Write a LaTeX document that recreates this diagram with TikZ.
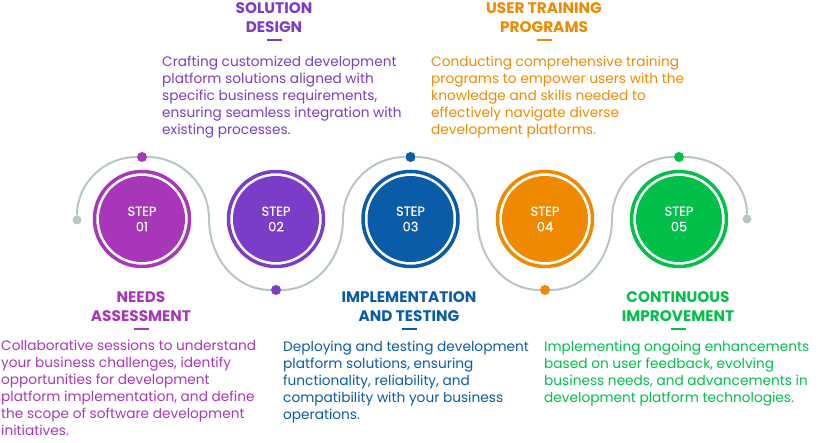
\documentclass[tikz,border=0pt]{standalone}
\usepackage{fontspec}
\setmainfont{Poppins}
\newfontfamily\stepfont[BoldFont={Poppins}, BoldFeatures={FakeBold=0.4}]{Poppins}
\usetikzlibrary{positioning}

\definecolor{stepA}{HTML}{A737B8}
\definecolor{stepB}{HTML}{7B3CC8}
\definecolor{stepC}{HTML}{0A5BA8}
\definecolor{stepD}{HTML}{EF8A00}
\definecolor{stepE}{HTML}{00C049}
\definecolor{wave}{HTML}{B9C6C6}

\tikzset{
  disc/.style={circle, fill=#1, minimum size=86pt, inner sep=0pt, text=white, align=center,
    font=\stepfont\bfseries\fontsize{13}{15.5}\selectfont},
  ring/.style={#1, line width=3.5pt},
  dot/.style={circle, fill=#1, inner sep=0pt, minimum size=10pt},
  title/.style={text=#1, align=center, inner sep=0pt, anchor=north,
    font=\fontsize{15.3}{19}\selectfont\bfseries},
  bar/.style={fill=#1, inner sep=0pt, minimum width=15pt, minimum height=2pt},
  body/.style={text=#1, align=left, inner sep=0pt, anchor=north west,
    font=\fontsize{13.7}{16.9}\selectfont},
}

\begin{document}
\begin{tikzpicture}[x=1pt, y=-1pt]
  \useasboundingbox (0,0) rectangle (821,443);

  % wave through the steps
  \coordinate (m1) at (209,219);
  \coordinate (m2) at (343,219);
  \coordinate (m3) at (477.5,219);
  \coordinate (m4) at (612,219);
  \node[dot=wave, minimum size=9pt] (e0) at (77,220) {};
  \node[dot=stepA] (d1) at (142,157) {};
  \node[dot=stepB] (d2) at (276,290) {};
  \node[dot=stepC] (d3) at (410.5,157) {};
  \node[dot=stepD] (d4) at (545,290) {};
  \node[dot=stepE] (d5) at (679,157) {};
  \node[dot=wave, minimum size=9pt] (e1) at (747,219) {};
  \draw[wave, line width=2pt] (e0) to[out=90, in=180] (d1) to[out=0, in=90] (m1)
    to[out=-90, in=180] (d2) to[out=0, in=-90] (m2)
    to[out=90, in=180] (d3) to[out=0, in=90] (m3)
    to[out=-90, in=180] (d4) to[out=0, in=-90] (m4)
    to[out=90, in=180] (d5) to[out=0, in=90] (e1);

  % steps
  \node[disc=stepA] (s1) at (142,219) {STEP\\01};
  \node[disc=stepB] (s2) at (276,219) {STEP\\02};
  \node[disc=stepC] (s3) at (410.5,219) {STEP\\03};
  \node[disc=stepD] (s4) at (545,219) {STEP\\04};
  \node[disc=stepE] (s5) at (679,219) {STEP\\05};
  \draw[ring=stepA] (s1.center) circle (47.5pt);
  \draw[ring=stepB] (s2.center) circle (47.5pt);
  \draw[ring=stepC] (s3.center) circle (47.5pt);
  \draw[ring=stepD] (s4.center) circle (47.5pt);
  \draw[ring=stepE] (s5.center) circle (47.5pt);

  % texts below
  \node[title=stepA] (h1) at (141,291) {NEEDS\\ASSESSMENT};
  \node[bar=stepA, below=6pt of h1] (b1) {};
  \node[body=stepA] (t1) at (1,340) {Collaborative sessions to understand\\your business challenges, identify\\opportunities for development\\platform implementation, and define\\the scope of software development\\initiatives.};

  \node[title=stepC] (h3) at (409,291) {IMPLEMENTATION\\AND TESTING};
  \node[bar=stepC, below=6pt of h3] (b3) {};
  \node[body=stepC] (t3) at (283,341) {Deploying and testing development\\platform solutions, ensuring\\functionality, reliability, and\\compatibility with your business\\operations.};

  \node[title=stepE] (h5) at (678,291) {CONTINUOUS\\IMPROVEMENT};
  \node[bar=stepE, below=6pt of h5] (b5) {};
  \node[body=stepE] (t5) at (544,341) {Implementing ongoing enhancements\\based on user feedback, evolving\\business needs, and advancements in\\development platform technologies.};

  % texts above
  \node[title=stepB] (h2) at (274,2) {SOLUTION\\DESIGN};
  \node[bar=stepB, below=6pt of h2] (b2) {};
  \node[body=stepB] (t2) at (162,56) {Crafting customized development\\platform solutions aligned with\\specific business requirements,\\ensuring seamless integration with\\existing processes.};

  \node[title=stepD] (h4) at (544,2) {USER TRAINING\\PROGRAMS};
  \node[bar=stepD, below=6pt of h4] (b4) {};
  \node[body=stepD] (t4) at (431,56) {Conducting comprehensive training\\programs to empower users with the\\knowledge and skills needed to\\effectively navigate diverse\\development platforms.};
\end{tikzpicture}
\end{document}
